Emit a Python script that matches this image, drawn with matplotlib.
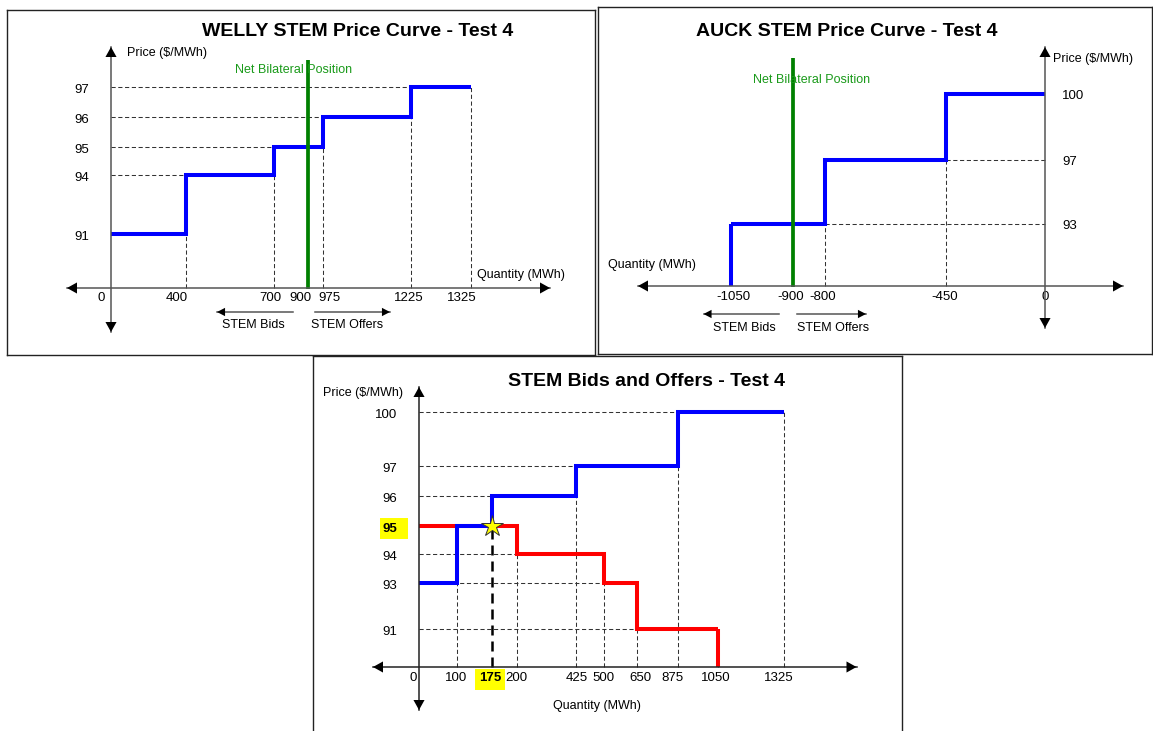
import numpy as np
import matplotlib
matplotlib.use("Agg")
import matplotlib.pyplot as plt
from matplotlib.patches import FancyArrowPatch, ArrowStyle, Rectangle
from matplotlib.lines import Line2D

plt.rcParams['font.family'] = ['Liberation Sans', 'DejaVu Sans']

W, H = 1153, 731

# ---------------- data ----------------
price_floor = 90  # price where the quantity axis sits

welly_qty = [0, 400, 700, 975, 1225, 1325]
welly_price = [91, 94, 95, 96, 97]
welly_nbp = 900
welly_xticks = [0, 400, 700, 900, 975, 1225, 1325]
welly_yticks = [91, 94, 95, 96, 97]

auck_qty = [-1050, -800, -450, 0]
auck_price = [93, 97, 100]
auck_nbp = -900
auck_xticks = [-1050, -900, -800, -450, 0]
auck_yticks = [93, 97, 100]

offer_qty = [0, 100, 175, 425, 875, 1325]
offer_price = [93, 95, 96, 97, 100]
bid_qty = [0, 200, 500, 650, 1050]
bid_price = [95, 94, 93, 91]
clear_qty = 175
clear_price = 95
stem_xticks = [0, 100, 175, 200, 425, 500, 650, 875, 1050, 1325]
stem_yticks = [91, 93, 94, 95, 96, 97, 100]

# ---------------- layout (pixels of the picture) ----------------
# the source diagram is not drawn to scale, so each panel gets a
# piecewise scale that puts every tick where the original put it
welly_box = (7, 10, 595, 355)
welly_xpix = [111, 185.6, 274, 308, 322.6, 410.6, 470.7]
welly_ypix = [288, 234, 175, 147, 117, 87]
welly_xdx = [-10, -9, -4, -8, 7, -2, -9]

auck_box = (598, 7, 1152, 354)
auck_xpix = [731, 793, 825, 945.5, 1045]
auck_ypix = [286, 224, 160, 94]
auck_xdx = [2, -2, -2, -1, 0]

stem_box = (313, 356, 902, 740)
stem_xpix = [419, 457.3, 491.8, 516.7, 576, 604, 637.2, 678, 717.6, 783.8]
stem_ypix = [667, 628.7, 582.7, 554, 525.7, 496, 465.7, 412]
stem_xdx = [-6, -1, -2, 0, 1, -0.5, 3, -6, -2, -5]

BLUE, RED, GREEN = '#0000ff', '#ff0000', '#008000'
TICK = 9.5
TITLE = 14
dash = dict(color='#333333', lw=0.75, ls=(0, (4, 2.5)), zorder=1)

fig = plt.figure(figsize=(W / 100, H / 100), dpi=100)


def extrap(v, a, b):
    v = np.asarray(v, dtype=float)
    a = np.asarray(a, dtype=float)
    b = np.asarray(b, dtype=float)
    out = np.interp(v, a, b)
    s0 = (b[1] - b[0]) / (a[1] - a[0])
    s1 = (b[-1] - b[-2]) / (a[-1] - a[-2])
    out = np.where(v < a[0], b[0] + (v - a[0]) * s0, out)
    out = np.where(v > a[-1], b[-1] + (v - a[-1]) * s1, out)
    return out


def panel(box, xvals, xpix, yvals, ypix):
    l, t, r, b = box
    ax = fig.add_axes([l / W, 1 - b / H, (r - l) / W, (b - t) / H])
    yup = [H - p for p in ypix]
    fx = (lambda v: extrap(v, xvals, xpix), lambda p: extrap(p, xpix, xvals))
    fy = (lambda v: extrap(v, yvals, yup), lambda p: extrap(p, yup, yvals))
    ax.set_xscale('function', functions=fx)
    ax.set_yscale('function', functions=fy)
    ax.set_xlim(float(fx[1](l)), float(fx[1](r)))
    ax.set_ylim(float(fy[1](H - b)), float(fy[1](H - t)))
    ax.set_xticks([])
    ax.set_yticks([])
    for s in ax.spines.values():
        s.set_linewidth(1.0)
        s.set_color('#222222')
    return ax, fx[1], fy[1]


def fpt(x, y):
    return (x / W, 1 - y / H)


def ftext(x, y, s, **kw):
    kw.setdefault('ha', 'center')
    kw.setdefault('va', 'center')
    kw.setdefault('fontsize', 9)
    fig.text(x / W, 1 - y / H, s, **kw)


def arrow(x0, y0, x1, y1, both=True, color='#555555', lw=1.1, hl=7.2, hw=4.0):
    p0, p1 = fpt(x0, y0), fpt(x1, y1)
    fig.add_artist(Line2D([p0[0], p1[0]], [p0[1], p1[1]], transform=fig.transFigure,
                          color=color, lw=lw, zorder=5))
    mid = ((p0[0] + p1[0]) / 2, (p0[1] + p1[1]) / 2)
    ends = [p1, p0] if both else [p1]
    for e in ends:
        fig.add_artist(FancyArrowPatch(mid, e, transform=fig.transFigure,
                                       arrowstyle=ArrowStyle('-|>', head_length=hl, head_width=hw),
                                       mutation_scale=1, lw=0, color='black',
                                       shrinkA=0, shrinkB=0, zorder=6))


def tick(ax, s, x, y, dx, dy, **kw):
    kw.setdefault('ha', 'center')
    kw.setdefault('va', 'center')
    kw.setdefault('fontsize', TICK)
    ax.annotate(s, (x, y), xytext=(dx, -dy), textcoords='offset pixels',
                annotation_clip=False, zorder=7, **kw)


def rising_guides(ax, qty, price, skip=()):
    for i, p in enumerate(price):
        if qty[i] > 0:
            ax.plot([0, qty[i]], [p, p], **dash)
        if qty[i + 1] not in skip:
            ax.plot([qty[i + 1]] * 2, [price_floor, p], **dash)


# ---------------- WELLY ----------------
ax, xinv, yinv = panel(welly_box, welly_xticks, welly_xpix,
                       [price_floor] + welly_yticks, welly_ypix)
rising_guides(ax, welly_qty, welly_price)
ax.stairs(welly_price, welly_qty, baseline=None, color=BLUE, lw=2.9, zorder=3)
ax.vlines(welly_nbp, float(yinv(H - 289)), float(yinv(H - 60)), color=GREEN, lw=2.7, zorder=4)
for q, d in zip(welly_xticks, welly_xdx):
    tick(ax, str(q), q, price_floor, d, 10)
for p in welly_yticks:
    tick(ax, str(p), 0, p, -21.5, 3, ha='right')

ftext(358, 31, 'WELLY STEM Price Curve - Test 4', fontsize=TITLE, fontweight='bold')
ftext(127, 53, 'Price ($/MWh)', ha='left')
ftext(235, 70, 'Net Bilateral Position', ha='left', color='#1a9a1a', zorder=1)
ftext(477, 275, 'Quantity (MWh)', ha='left')
ftext(253, 325, 'STEM Bids')
ftext(347, 325, 'STEM Offers')
arrow(67, 288, 550, 288)
arrow(111, 47, 111, 332)
arrow(293, 312, 217, 312, both=False, hl=5.8, hw=3.0)
arrow(315, 312, 390, 312, both=False, hl=5.8, hw=3.0)

# ---------------- AUCK ----------------
ax, xinv, yinv = panel(auck_box, auck_xticks, auck_xpix,
                       [price_floor] + auck_yticks, auck_ypix)
for i, p in enumerate(auck_price[:-1]):
    q = auck_qty[i + 1]
    ax.plot([q, 0], [p, p], **dash)
    ax.plot([q, q], [price_floor, p], **dash)
ax.stairs(auck_price, auck_qty, baseline=None, color=BLUE, lw=2.9, zorder=3)
ax.vlines(auck_qty[0], price_floor, auck_price[0], color=BLUE, lw=2.9, zorder=3)
ax.vlines(auck_nbp, float(yinv(H - 287)), float(yinv(H - 58)), color=GREEN, lw=2.7, zorder=4)
for q, d in zip(auck_xticks, auck_xdx):
    tick(ax, str(q), q, price_floor, d, 11)
for p in auck_yticks:
    tick(ax, str(p), 0, p, 17, 2, ha='left')

ftext(847, 31, 'AUCK STEM Price Curve - Test 4', fontsize=TITLE, fontweight='bold')
ftext(1053, 59, 'Price ($/MWh)', ha='left')
ftext(753, 80, 'Net Bilateral Position', ha='left', color='#1a9a1a', zorder=1)
ftext(608, 265, 'Quantity (MWh)', ha='left')
ftext(744.5, 328, 'STEM Bids')
ftext(833, 328, 'STEM Offers')
arrow(638, 286, 1123, 286)
arrow(1045, 47, 1045, 328)
arrow(779, 314, 703.5, 314, both=False, hl=5.8, hw=3.0)
arrow(797, 314, 866, 314, both=False, hl=5.8, hw=3.0)

# ---------------- STEM bids and offers ----------------
ax, xinv, yinv = panel(stem_box, stem_xticks, stem_xpix,
                       [price_floor] + stem_yticks, stem_ypix)
rising_guides(ax, offer_qty, offer_price, skip=(clear_qty,))
rising_guides(ax, bid_qty, bid_price)
ax.plot([clear_qty, clear_qty], [price_floor, clear_price], color='black',
        lw=1.8, ls=(0, (4, 2.4)), zorder=2)
ax.stairs(bid_price, bid_qty, baseline=None, color=RED, lw=2.9, zorder=3)
ax.vlines(bid_qty[-1], price_floor, bid_price[-1], color=RED, lw=2.9, zorder=3)
ax.stairs(offer_price, offer_qty, baseline=None, color=BLUE, lw=2.9, zorder=3.5)
ax.plot(clear_qty, clear_price, marker='*', ms=16, mfc='#ffff00', mec='#333333',
        mew=0.7, zorder=5)

ax.add_patch(Rectangle(fpt(380, 539), 28 / W, 21 / H, transform=fig.transFigure,
                       facecolor='#ffff00', edgecolor='none', zorder=6))
ax.add_patch(Rectangle(fpt(475, 690), 30 / W, 21 / H, transform=fig.transFigure,
                       facecolor='#ffff00', edgecolor='none', zorder=6))
for q, d in zip(stem_xticks, stem_xdx):
    bold = 'bold' if q == clear_qty else 'normal'
    tick(ax, str(q), q, price_floor, d, 11, fontweight=bold)
for p in stem_yticks:
    bold = 'bold' if p == clear_price else 'normal'
    tick(ax, str(p), 0, p, -21.5, 3, ha='right', fontweight=bold)

ftext(647, 382, 'STEM Bids and Offers - Test 4', fontsize=TITLE, fontweight='bold')
ftext(363, 393, 'Price ($/MWh)')
ftext(597, 706, 'Quantity (MWh)')
arrow(373, 667, 856.5, 667, color='#222222')
arrow(419, 387, 419, 710, color='#222222')

fig.savefig('out.png', dpi=100, facecolor='white')
